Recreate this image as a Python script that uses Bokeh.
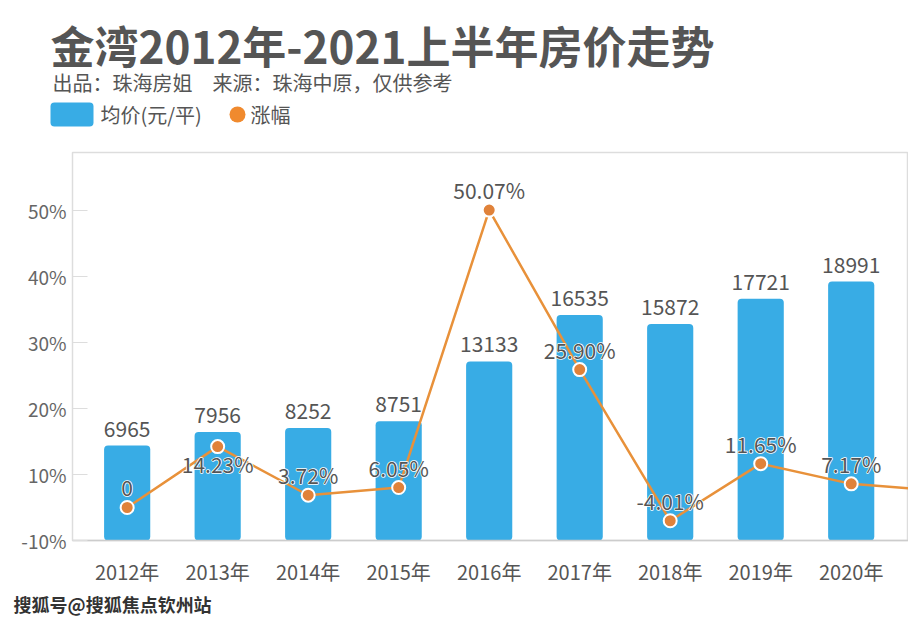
from bokeh.plotting import figure
from bokeh.layouts import column
from bokeh.models import (Range1d, LinearAxis, FixedTicker, ColumnDataSource,
                          CustomJSTransform)
from bokeh.transform import transform
from bokeh.core.properties import value
from bokeh.embed import file_html
from bokeh.resources import INLINE

# ---------------- data ----------------
years = ["2012年", "2013年", "2014年", "2015年", "2016年", "2017年", "2018年", "2019年", "2020年", "2021年"]
prices = [6965, 7956, 8252, 8751, 13133, 16535, 15872, 17721, 18991]          # 均价(元/平)
growth = [0, 14.23, 3.72, 6.05, 50.07, 25.90, -4.01, 11.65, 7.17, 5.0]        # 涨幅 (%)
pct_ticks = [-10, 10, 20, 30, 40, 50]

TITLE = "金湾2012年-2021上半年房价走势"
SUBTITLE = "出品：珠海房姐　来源：珠海中原，仅供参考"
LEGEND_BAR = "均价(元/平)"
LEGEND_LINE = "涨幅"
SOURCE_MARK = "搜狐号@搜狐焦点钦州站"

FONT = value("Noto Sans CJK SC")
TXT = "#555555"
BAR = "#38ace5"
ORANGE = "#e8913a"
W = 908


def axis_pos(v):
    # piecewise axis of the original: below 10% the scale is compressed by half
    return v if v >= 10 else 10 + (v - 10) / 2


pct_axis = CustomJSTransform(
    func="return x >= 10 ? x : 10 + (x - 10) / 2",
    v_func="return xs.map(x => x >= 10 ? x : 10 + (x - 10) / 2)")

n_bar = len(prices)
bar_src = ColumnDataSource(dict(
    x=list(range(n_bar)), price=prices, label=[str(v) for v in prices]))

line_src = ColumnDataSource(dict(x=list(range(len(growth))), pct=growth))

below = {"2013年"}  # this label sits under its point, clear of the bar value
lab_src = ColumnDataSource(dict(
    x=list(range(n_bar)), pct=growth[:n_bar],
    label=["0" if v == 0 else f"{v:.2f}%" for v in growth[:n_bar]],
    dy=[17 if years[i] in below else -20 for i in range(n_bar)]))

# ---------------- header ----------------
h = figure(width=W, height=150, output_backend="svg", toolbar_location=None,
           x_range=Range1d(0, W), y_range=Range1d(150, 0),
           min_border=0, x_axis_type=None, y_axis_type=None)
h.frame_align = False
h.outline_line_color = None
h.grid.visible = False
h.text(x=[50], y=[44], text=[TITLE], text_font=FONT, text_font_size="44px",
       text_font_style="bold", text_color=TXT, text_baseline="middle")
h.text(x=[52], y=[82], text=[SUBTITLE], text_font=FONT, text_font_size="20px",
       text_color=TXT, text_baseline="middle")
h.quad(left=[50], right=[93], top=[102], bottom=[126], fill_color=BAR,
       line_color=None, border_radius=4)
h.text(x=[100], y=[114], text=[LEGEND_BAR], text_font=FONT, text_font_size="20px",
       text_color=TXT, text_baseline="middle")
h.scatter(x=[237], y=[114], size=16, fill_color="#f08a2e", line_color=None)
h.text(x=[250], y=[114], text=[LEGEND_LINE], text_font=FONT, text_font_size="20px",
       text_color=TXT, text_baseline="middle")

# ---------------- main chart ----------------
p = figure(width=W, height=440, output_backend="svg", toolbar_location=None,
           x_range=Range1d(-0.604, 8.633), y_range=Range1d(0, 58.8),
           min_border_left=72, min_border_right=0, min_border_top=2, min_border_bottom=50,
           x_axis_type=None, y_axis_type=None)
p.extra_y_ranges = {"price": Range1d(0, 28450)}
p.background_fill_color = "white"
p.border_fill_color = "white"
p.outline_line_color = "#dddddd"
p.outline_line_width = 1.5
p.xgrid.visible = False
p.ygrid.visible = False

yax = LinearAxis(ticker=FixedTicker(ticks=[axis_pos(v) for v in pct_ticks]))
yax.major_label_overrides = {axis_pos(v): f"{v}%" for v in pct_ticks}
yax.axis_line_color = "#dddddd"
yax.major_tick_in = 15
yax.major_tick_out = 0
yax.major_tick_line_color = "#dddddd"
yax.minor_tick_line_color = None
yax.major_label_standoff = 6
yax.major_label_text_font = "Noto Sans CJK SC"
yax.major_label_text_font_size = "19px"
yax.major_label_text_color = "#666666"
p.add_layout(yax, "left")

xax = LinearAxis(ticker=FixedTicker(ticks=list(range(len(years)))))
xax.major_label_overrides = {i: y for i, y in enumerate(years)}
xax.axis_line_color = "#cccccc"
xax.axis_line_width = 1.5
xax.major_tick_line_color = None
xax.minor_tick_line_color = None
xax.major_label_standoff = 10
xax.major_label_text_font = "Noto Sans CJK SC"
xax.major_label_text_font_size = "20px"
xax.major_label_text_color = TXT
p.add_layout(xax, "below")

p.vbar(x="x", top="price", width=0.51, source=bar_src, y_range_name="price",
       fill_color=BAR, line_color=None, border_radius=4)
p.text(x="x", y="price", text="label", source=bar_src, y_range_name="price",
       text_align="center", text_baseline="middle", y_offset=-17,
       text_font=FONT, text_font_size="21px", text_color=TXT)

p.line(x="x", y=transform("pct", pct_axis), source=line_src,
       line_color=ORANGE, line_width=2.5)
p.scatter(x="x", y=transform("pct", pct_axis), source=lab_src, size=13,
          fill_color="#e0823a", line_color="white", line_width=2)
# white halo behind the percentage labels, then the labels themselves
p.text(x="x", y=transform("pct", pct_axis), text="label", source=lab_src,
       y_offset="dy", text_align="center", text_baseline="middle",
       text_font=FONT, text_font_size="21px", text_color="white",
       text_outline_color="white")
p.text(x="x", y=transform("pct", pct_axis), text="label", source=lab_src,
       y_offset="dy", text_align="center", text_baseline="middle",
       text_font=FONT, text_font_size="21px", text_color=TXT)

# ---------------- footer ----------------
f = figure(width=W, height=30, output_backend="svg", toolbar_location=None,
           x_range=Range1d(0, W), y_range=Range1d(30, 0),
           min_border=0, x_axis_type=None, y_axis_type=None)
f.frame_align = False
f.outline_line_color = None
f.grid.visible = False
f.text(x=[13], y=[13], text=[SOURCE_MARK], text_font=FONT, text_font_size="18px",
       text_font_style="bold", text_color="#333333", text_baseline="middle")

layout = column(h, p, f, spacing=0)
open("out.html", "w").write(file_html(layout, INLINE))
